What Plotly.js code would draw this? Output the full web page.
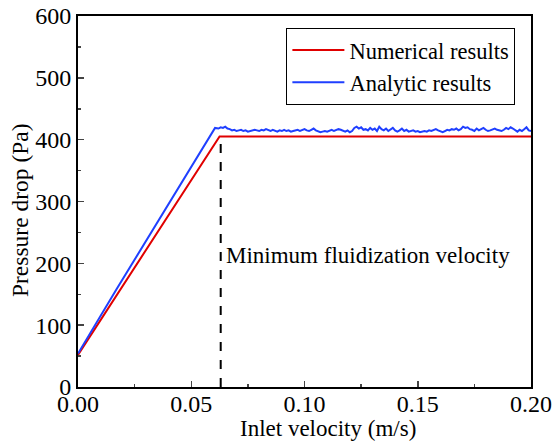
<!DOCTYPE html>
<html>
<head>
<meta charset="utf-8">
<script src="https://cdn.plot.ly/plotly-3.0.1.min.js"></script>
<style>html,body{margin:0;padding:0;background:#fff}#chart{width:552px;height:444px}</style>
</head>
<body>
<div id="chart"></div>
<script>
// Numerical results (red)
const numX = [0, 0.0625, 0.2];
const numY = [52, 405, 405];

// Analytic results (blue)
const anaRampX = [0, 0.017, 0.0605];
const anaRampY = [54, 158, 419];
const anaNoiseY = [
  418,420,419,421,418,
  417,415,416,414,415,416,414,415,413,
  414,415,416,415,414,416,415,417,415,414,416,415,413,415,414,
  416,414,415,413,414,415,416,414,415,417,415,414,416,418,415,
  414,412,413,414,413,415,416,414,415,417,416,414,413,415,412,
  414,419,421,418,420,416,417,415,419,416,418,414,421,417,415,
  418,414,416,419,415,413,415,418,414,416,413,414,415,413,414,
  412,413,414,413,415,414,416,417,415,413,412,414,416,415,417,
  416,418,415,417,421,419,420,417,416,414,418,415,417,419,416,
  414,415,416,418,416,415,414,416,419,417,420,418,415,413,416,414,417,420,415,414
];
const noiseStart = 0.062, noiseStep = 0.001;

const mfvX = 0.063;
const mfvTop = 405;
const annText = "Minimum fluidization velocity";
const xTitle = "Inlet velocity (m/s)";
const yTitle = "Pressure drop (Pa)";
const xTickVals = [0, 0.05, 0.10, 0.15, 0.20];
const xTickText = ["0.00", "0.05", "0.10", "0.15", "0.20"];
const yTickVals = [0, 100, 200, 300, 400, 500, 600];

const anaX = anaRampX.slice();
const anaY = anaRampY.slice();
anaNoiseY.forEach((v, i) => { anaX.push(+(noiseStart + i * noiseStep).toFixed(4)); anaY.push(v); });

const font = "Liberation Serif, Times New Roman, serif";

const traces = [
  {x: numX, y: numY, mode: "lines", name: "Numerical results", line: {color: "#e00000", width: 2}},
  {x: anaX, y: anaY, mode: "lines", name: "Analytic results", line: {color: "#1f3fff", width: 2}}
];

const layout = {
  width: 552, height: 444,
  margin: {l: 78, r: 21, t: 16, b: 57},
  paper_bgcolor: "#fff", plot_bgcolor: "#fff",
  font: {family: font, size: 23, color: "#000"},
  showlegend: true,
  legend: {x: 0.46, y: 0.968, xanchor: "left", yanchor: "top", bgcolor: "#fff",
           bordercolor: "#000", borderwidth: 1, font: {family: font, size: 22.5}, itemwidth: 52,
           tracegroupgap: 0},
  xaxis: {range: [0, 0.2], tickvals: xTickVals, ticktext: xTickText, ticks: "inside", ticklen: 6, tickwidth: 1.5,
          showline: true, linewidth: 2, linecolor: "#000", mirror: true, showgrid: false, zeroline: false,
          ticklabelstandoff: -6, tickfont: {family: font, size: 24},
          minor: {ticks: "inside", ticklen: 3, tickwidth: 1.5, dtick: 0.025, tick0: 0, showgrid: false}},
  yaxis: {range: [0, 600], tickvals: yTickVals, ticks: "inside", ticklen: 6, tickwidth: 1.5,
          showline: true, linewidth: 2, linecolor: "#000", mirror: true, showgrid: false, zeroline: false,
          ticklabelstandoff: 0, tickfont: {family: font, size: 24},
          minor: {ticks: "inside", ticklen: 3, tickwidth: 1.5, dtick: 50, tick0: 0, showgrid: false}},
  shapes: [{type: "line", xref: "x", yref: "y", x0: mfvX, x1: mfvX, y0: 0, y1: mfvTop,
            line: {color: "#000", width: 2, dash: "dash"}}],
  annotations: [
    {x: mfvX + 0.0013, y: 213, xref: "x", yref: "y", text: annText, showarrow: false,
     xanchor: "left", yanchor: "middle", font: {family: font, size: 23, color: "#000"}},
    {x: 0.552, y: -0.112, xref: "paper", yref: "paper", text: xTitle, showarrow: false,
     xanchor: "center", yanchor: "middle", font: {family: font, size: 23, color: "#000"}},
    {x: -0.128, y: 0.477, xref: "paper", yref: "paper", text: yTitle, showarrow: false, textangle: -90,
     xanchor: "center", yanchor: "middle", font: {family: font, size: 23.5, color: "#000"}}
  ]
};

Plotly.newPlot("chart", traces, layout, {displayModeBar: false, staticPlot: true});
</script>
</body>
</html>
